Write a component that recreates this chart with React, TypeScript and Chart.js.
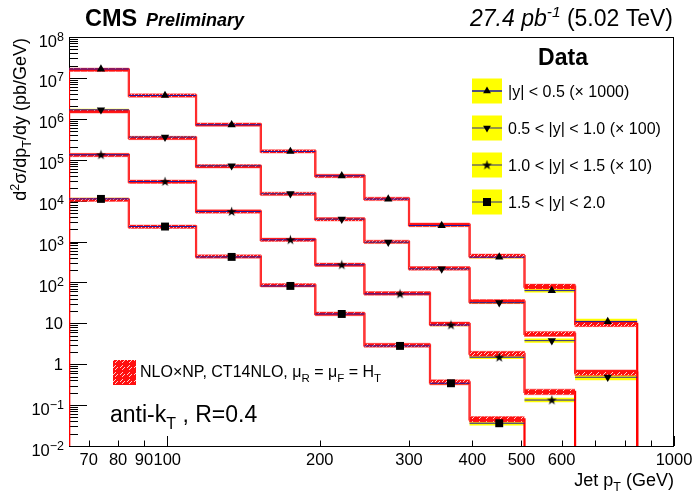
import React, { useEffect, useRef } from 'react';
import { Chart, registerables } from 'chart.js';

Chart.register(...registerables);

const FONT = '"Liberation Sans", Arial, Helvetica, sans-serif';

// ---- bin edges (GeV) ----
const edgesY05 = [64, 84, 114, 153, 196, 245, 300, 395, 507, 638, 846];
const edgesY10 = [64, 84, 114, 153, 196, 245, 300, 395, 507, 638, 846];
const edgesY15 = [64, 84, 114, 153, 196, 245, 330, 395, 507, 638];
const edgesY20 = [64, 84, 114, 153, 196, 245, 330, 395, 507];

// ---- marker positions (mean pT) ----
const ptY05 = [74, 99, 134, 175, 221, 273, 348, 452, 574, 740];
const ptY10 = [74, 99, 134, 175, 221, 273, 348, 452, 574, 740];
const ptY15 = [74, 99, 134, 175, 221, 288, 363, 452, 574];
const ptY20 = [74, 99, 134, 175, 221, 288, 363, 452];

// ---- measured cross sections (already scaled) ----
const dataY05 = [1.65e7, 3.72e6, 7.15e5, 1.59e5, 4.04e4, 1.09e4, 2.46e3, 414, 63, 11.0];
const dataY10 = [1.66e6, 3.57e5, 7.1e4, 1.47e4, 3.52e3, 964, 214, 32, 3.77, 0.48];
const dataY15 = [1.32e5, 2.93e4, 5.4e3, 1.1e3, 269, 52.5, 9.1, 1.48, 0.133];
const dataY20 = [1.1e4, 2.32e3, 420, 82, 16.9, 2.8, 0.342, 0.036];

// ---- NLO x NP predictions ----
const theoY05 = [1.58e7, 3.7e6, 7.2e5, 1.6e5, 4.0e4, 1.1e4, 2.55e3, 440, 79, 9.7];
const theoY10 = [1.52e6, 3.4e5, 6.9e4, 1.46e4, 3.5e3, 980, 220, 34, 5.5, 0.62];
const theoY15 = [1.3e5, 2.9e4, 5.4e3, 1.1e3, 270, 54, 9.6, 1.8, 0.21];
const theoY20 = [1.05e4, 2.3e3, 430, 85, 17, 2.9, 0.36, 0.045];

// ---- relative uncertainties ----
const dataUncY05 = [0.06, 0.05, 0.05, 0.05, 0.05, 0.06, 0.07, 0.08, 0.12, 0.18];
const dataUncY10 = [0.06, 0.05, 0.05, 0.05, 0.05, 0.06, 0.07, 0.08, 0.12, 0.18];
const dataUncY15 = [0.06, 0.05, 0.05, 0.05, 0.05, 0.06, 0.08, 0.1, 0.14];
const dataUncY20 = [0.06, 0.05, 0.05, 0.05, 0.06, 0.07, 0.09, 0.13];
const theoUncY05 = [0.1, 0.1, 0.1, 0.1, 0.1, 0.1, 0.11, 0.12, 0.15, 0.17];
const theoUncY10 = [0.1, 0.1, 0.1, 0.1, 0.1, 0.1, 0.11, 0.12, 0.15, 0.17];
const theoUncY15 = [0.1, 0.1, 0.1, 0.1, 0.1, 0.11, 0.12, 0.15, 0.17];
const theoUncY20 = [0.1, 0.1, 0.1, 0.1, 0.11, 0.12, 0.15, 0.17];

// ---- axes ----
const xMin = 64;
const xMax = 1000;
const yMin = 1e-2;
const yMax = 1e8;
const xLabelValues = [70, 80, 90, 100, 200, 300, 400, 500, 600, 1000];
const xMajorTicks = [100, 1000];
const xMinorTicks = [70, 80, 90, 200, 300, 400, 500, 600, 700, 800, 900];
const yExponents = [-2, -1, 0, 1, 2, 3, 4, 5, 6, 7, 8];

const legendLabels = [
  '|y| < 0.5 (\u00d7 1000)',
  '0.5 < |y| < 1.0 (\u00d7 100)',
  '1.0 < |y| < 1.5 (\u00d7 10)',
  '1.5 < |y| < 2.0',
];

type Pt = { x: number; y: number | null };

function stepPts(edges: number[], vals: number[], ground: boolean): Pt[] {
  const pts: Pt[] = [];
  if (ground) pts.push({ x: edges[0], y: 1e-3 });
  vals.forEach((v, i) => {
    pts.push({ x: edges[i], y: v });
    pts.push({ x: edges[i + 1], y: v });
  });
  if (ground) pts.push({ x: edges[vals.length], y: 1e-3 });
  return pts;
}

function segPts(edges: number[], vals: number[]): Pt[] {
  const pts: Pt[] = [];
  vals.forEach((v, i) => {
    pts.push({ x: edges[i], y: v });
    pts.push({ x: edges[i + 1], y: v });
    pts.push({ x: edges[i + 1], y: null });
  });
  return pts;
}

type Part = { t: string; size: number; dy?: number; bold?: boolean; italic?: boolean };

function fontOf(p: Part) {
  return `${p.italic ? 'italic ' : ''}${p.bold ? 'bold ' : ''}${p.size}px ${FONT}`;
}

function drawRich(ctx: CanvasRenderingContext2D, parts: Part[], x: number, y: number, align: 'left' | 'right' | 'center') {
  let total = 0;
  const widths = parts.map((p) => {
    ctx.font = fontOf(p);
    const w = ctx.measureText(p.t).width;
    total += w;
    return w;
  });
  let cx = align === 'left' ? x : align === 'right' ? x - total : x - total / 2;
  ctx.textAlign = 'left';
  ctx.textBaseline = 'alphabetic';
  parts.forEach((p, i) => {
    ctx.font = fontOf(p);
    ctx.fillText(p.t, cx, y + (p.dy || 0));
    cx += widths[i];
  });
}

function starPath(ctx: CanvasRenderingContext2D, cx: number, cy: number, ro: number, ri: number) {
  ctx.beginPath();
  for (let i = 0; i < 10; i++) {
    const r = i % 2 === 0 ? ro : ri;
    const a = -Math.PI / 2 + (i * Math.PI) / 5;
    const px = cx + r * Math.cos(a);
    const py = cy + r * Math.sin(a);
    if (i === 0) ctx.moveTo(px, py);
    else ctx.lineTo(px, py);
  }
  ctx.closePath();
}

function makeStar(): HTMLCanvasElement {
  const c = document.createElement('canvas');
  c.width = 11;
  c.height = 11;
  const g = c.getContext('2d')!;
  g.fillStyle = '#000';
  starPath(g, 5.5, 5.8, 5.2, 2.0);
  g.fill();
  return c;
}

function makeHatch(ctx: CanvasRenderingContext2D): CanvasPattern {
  const c = document.createElement('canvas');
  c.width = 7;
  c.height = 7;
  const g = c.getContext('2d')!;
  g.fillStyle = '#ff1010';
  g.fillRect(0, 0, 7, 7);
  g.fillStyle = '#ffd0d0';
  const dots = [
    [3, 1], [1, 3], [5, 3], [3, 5], [2, 2], [4, 4],
  ];
  dots.forEach(([a, b]) => g.fillRect(a, b, 1, 1));
  return ctx.createPattern(c, 'repeat')!;
}

function drawLegendMarker(ctx: CanvasRenderingContext2D, kind: string, x: number, y: number, star: HTMLCanvasElement) {
  ctx.fillStyle = '#000';
  if (kind === 'up') {
    ctx.beginPath();
    ctx.moveTo(x, y - 4.5);
    ctx.lineTo(x + 3.9, y + 2.3);
    ctx.lineTo(x - 3.9, y + 2.3);
    ctx.closePath();
    ctx.fill();
  } else if (kind === 'down') {
    ctx.beginPath();
    ctx.moveTo(x, y + 4.5);
    ctx.lineTo(x + 3.9, y - 2.3);
    ctx.lineTo(x - 3.9, y - 2.3);
    ctx.closePath();
    ctx.fill();
  } else if (kind === 'star') {
    ctx.drawImage(star, x - 5.5, y - 5.5);
  } else {
    ctx.fillRect(x - 4, y - 4, 8, 8);
  }
}

export default function App() {
  const ref = useRef<HTMLCanvasElement>(null);

  useEffect(() => {
    const canvas = ref.current!;
    const ctx0 = canvas.getContext('2d')!;
    const hatch = makeHatch(ctx0);
    const star = makeStar();

    const series = [
      { edges: edgesY05, pt: ptY05, data: dataY05, theo: theoY05, dU: dataUncY05, tU: theoUncY05, style: 'triangle' as any, rot: 0, r: 4.8, line: '#1a1aa8' },
      { edges: edgesY10, pt: ptY10, data: dataY10, theo: theoY10, dU: dataUncY10, tU: theoUncY10, style: 'triangle' as any, rot: 180, r: 4.8, line: '#2a2a90' },
      { edges: edgesY15, pt: ptY15, data: dataY15, theo: theoY15, dU: dataUncY15, tU: theoUncY15, style: star as any, rot: 0, r: 5, line: '#1a1aa8' },
      { edges: edgesY20, pt: ptY20, data: dataY20, theo: theoY20, dU: dataUncY20, tU: theoUncY20, style: 'rect' as any, rot: 0, r: 5.6, line: '#1a1aa8' },
    ];

    const datasets: any[] = [];
    series.forEach((s) => {
      // data systematic band (yellow)
      datasets.push({
        data: stepPts(s.edges, s.data.map((v, i) => v * (1 + s.dU[i])), false),
        borderWidth: 0, pointRadius: 0, fill: false, order: 5, borderColor: 'rgba(0,0,0,0)',
      });
      datasets.push({
        data: stepPts(s.edges, s.data.map((v, i) => v / (1 + s.dU[i])), false),
        borderWidth: 0, pointRadius: 0, fill: '-1', backgroundColor: '#ffff00', order: 5, borderColor: 'rgba(0,0,0,0)',
      });
      // theory line (red histogram)
      datasets.push({
        data: stepPts(s.edges, s.theo, true),
        borderWidth: 2.2, borderColor: '#ff0000', pointRadius: 0, fill: false, order: 4,
      });
      // theory band (hatched)
      datasets.push({
        data: stepPts(s.edges, s.theo.map((v, i) => v * (1 + s.tU[i])), false),
        borderWidth: 1, pointRadius: 0, fill: false, order: 3, borderColor: 'rgba(255,60,60,0.45)',
      });
      datasets.push({
        data: stepPts(s.edges, s.theo.map((v, i) => v / (1 + s.tU[i])), false),
        borderWidth: 1, pointRadius: 0, fill: '-1', backgroundColor: hatch, order: 3, borderColor: 'rgba(255,60,60,0.45)',
      });
      // data histogram line
      datasets.push({
        data: segPts(s.edges, s.data),
        borderWidth: 1, borderColor: s.line, pointRadius: 0, fill: false, order: 2, spanGaps: false,
      });
      // data markers
      datasets.push({
        data: s.pt.map((x, i) => ({ x, y: s.data[i] })),
        showLine: false, pointStyle: s.style, pointRotation: s.rot, pointRadius: s.r,
        pointBackgroundColor: '#000', pointBorderColor: '#000', pointBorderWidth: 0, order: 1,
      });
    });

    const axesPlugin = {
      id: 'axesDecor',
      beforeDatasetsDraw(chart: any) {
        const { ctx, chartArea: ca, scales } = chart;
        const xs = scales.x;
        const ys = scales.y;
        ctx.save();
        ctx.strokeStyle = '#000';
        ctx.lineWidth = 1;
        ctx.strokeRect(ca.left + 0.5, ca.top + 0.5, ca.right - ca.left - 1, ca.bottom - ca.top);
        // x ticks
        ctx.beginPath();
        xMajorTicks.forEach((v) => {
          const px = Math.round(xs.getPixelForValue(v)) + 0.5;
          ctx.moveTo(px, ca.bottom);
          ctx.lineTo(px, ca.bottom - 10);
        });
        xMinorTicks.forEach((v) => {
          const px = Math.round(xs.getPixelForValue(v)) + 0.5;
          ctx.moveTo(px, ca.bottom);
          ctx.lineTo(px, ca.bottom - 5.5);
        });
        // y ticks
        yExponents.forEach((e) => {
          const py = Math.round(ys.getPixelForValue(Math.pow(10, e))) + 0.5;
          ctx.moveTo(ca.left, py);
          ctx.lineTo(ca.left + 18, py);
          if (e < 8) {
            for (let k = 2; k <= 9; k++) {
              const q = Math.round(ys.getPixelForValue(k * Math.pow(10, e))) + 0.5;
              ctx.moveTo(ca.left, q);
              ctx.lineTo(ca.left + 9, q);
            }
          }
        });
        ctx.stroke();
        ctx.restore();
      },
      afterDraw(chart: any) {
        const { ctx, chartArea: ca, scales } = chart;
        const xs = scales.x;
        const ys = scales.y;
        ctx.save();
        ctx.fillStyle = '#000';
        ctx.strokeStyle = '#000';
        ctx.lineWidth = 1;
        ctx.beginPath();
        ctx.moveTo(ca.left, ca.bottom + 0.5);
        ctx.lineTo(ca.right, ca.bottom + 0.5);
        ctx.stroke();

        // x tick labels
        xLabelValues.forEach((v) => {
          const px = xs.getPixelForValue(v);
          drawRich(ctx, [{ t: String(v), size: 16.5 }], px, ca.bottom + 18.5, 'center');
        });
        // y tick labels
        yExponents.forEach((e) => {
          const py = ys.getPixelForValue(Math.pow(10, e));
          const rx = 64;
          if (e === 0) drawRich(ctx, [{ t: '1', size: 16.5 }], rx - 1, py + 6, 'right');
          else if (e === 1) drawRich(ctx, [{ t: '10', size: 16.5 }], rx - 1, py + 6, 'right');
          else {
            const ex = e < 0 ? '\u2212' + String(-e) : String(e);
            drawRich(ctx, [
              { t: '10', size: 16.5, dy: 9.5 },
              { t: ex, size: 12.5, dy: 3.5 },
            ], rx, py, 'right');
          }
        });
        // axis titles
        drawRich(ctx, [
          { t: 'Jet p', size: 18 },
          { t: 'T', size: 12.5, dy: 5 },
          { t: ' (GeV)', size: 18 },
        ], ca.right, 486, 'right');
        ctx.save();
        ctx.translate(26, 38);
        ctx.rotate(-Math.PI / 2);
        drawRich(ctx, [
          { t: 'd', size: 18 },
          { t: '2', size: 12.5, dy: -7 },
          { t: '\u03c3/dp', size: 18 },
          { t: 'T', size: 12.5, dy: 5 },
          { t: '/dy (pb/GeV)', size: 18 },
        ], 0, 0, 'right');
        ctx.restore();

        // header
        drawRich(ctx, [{ t: 'CMS', size: 23.5, bold: true }], 85, 26, 'left');
        drawRich(ctx, [{ t: 'Preliminary', size: 18, bold: true, italic: true }], 146, 26, 'left');
        drawRich(ctx, [
          { t: '27.4 pb', size: 23, italic: true },
          { t: '-1', size: 15.5, italic: true, dy: -9 },
          { t: ' (5.02 TeV)', size: 23 },
        ], 673, 26, 'right');

        // legend
        drawRich(ctx, [{ t: 'Data', size: 23, bold: true }], 563, 65, 'center');
        const ly = [91, 128, 165, 202];
        const kinds = ['up', 'down', 'star', 'square'];
        const lineCols = ['#1a1aa8', '#70705a', '#70705a', '#70705a'];
        ly.forEach((yy, i) => {
          ctx.fillStyle = '#ffff00';
          ctx.fillRect(472, yy - 12.5, 30, 25);
          ctx.strokeStyle = lineCols[i];
          ctx.lineWidth = 1.5;
          ctx.beginPath();
          ctx.moveTo(472, yy);
          ctx.lineTo(502, yy);
          ctx.stroke();
          drawLegendMarker(ctx, kinds[i], 487, yy, star);
          ctx.fillStyle = '#000';
          drawRich(ctx, [{ t: legendLabels[i], size: 16 }], 508, yy + 5.7, 'left');
        });

        // theory legend
        ctx.fillStyle = hatch;
        ctx.fillRect(113, 360, 23, 25);
        ctx.fillStyle = '#000';
        drawRich(ctx, [
          { t: 'NLO\u00d7NP, CT14NLO, \u03bc', size: 16 },
          { t: 'R', size: 11.5, dy: 5 },
          { t: ' = \u03bc', size: 16 },
          { t: 'F', size: 11.5, dy: 5 },
          { t: ' = H', size: 16 },
          { t: 'T', size: 11.5, dy: 5 },
        ], 140, 377, 'left');
        drawRich(ctx, [
          { t: 'anti-k', size: 23 },
          { t: 'T', size: 16, dy: 7 },
          { t: ' , R=0.4', size: 23 },
        ], 110, 422, 'left');
        ctx.restore();
      },
    };

    const chart = new Chart(canvas, {
      type: 'line',
      data: { datasets },
      options: {
        animation: false,
        responsive: false,
        maintainAspectRatio: false,
        layout: { padding: { left: 69, right: 20, top: 37, bottom: 49 } },
        plugins: { legend: { display: false }, tooltip: { enabled: false } },
        elements: { line: { tension: 0 } },
        scales: {
          x: { type: 'logarithmic', min: xMin, max: xMax, display: false },
          y: { type: 'logarithmic', min: yMin, max: yMax, display: false },
        },
      } as any,
      plugins: [axesPlugin],
    });
    return () => chart.destroy();
  }, []);

  return (
    <div style={{ position: 'absolute', left: 0, top: 0, width: 694, height: 495, background: '#fff' }}>
      <canvas ref={ref} width={694} height={495} />
    </div>
  );
}
